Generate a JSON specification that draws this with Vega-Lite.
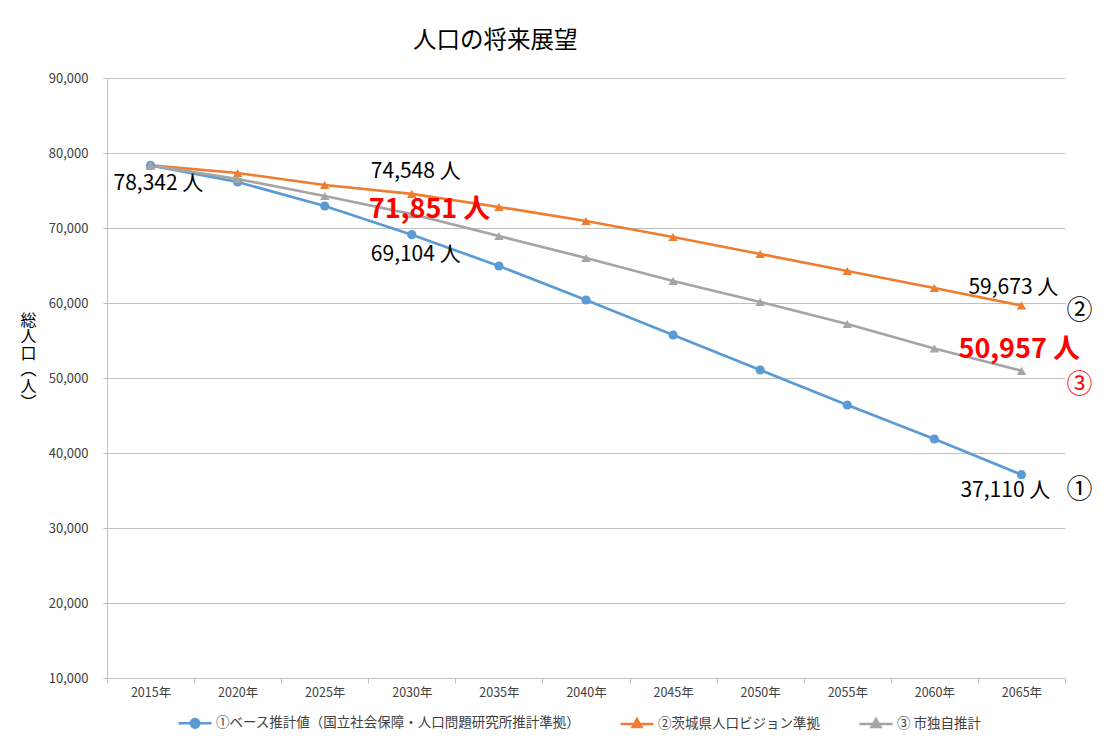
{
  "$schema": "https://vega.github.io/schema/vega-lite/v6.json",
  "width": 958,
  "height": 600,
  "autosize": {"type": "none"},
  "padding": {"left": 107, "top": 78, "right": 55, "bottom": 60},
  "background": "white",
  "config": {
    "view": {"stroke": null},
    "font": "Noto Sans CJK JP",
    "text": {"font": "Noto Sans CJK JP"}
  },
  "title": {
    "text": "人口の将来展望",
    "anchor": "start",
    "dx": 393,
    "offset": 20,
    "fontSize": 23.5,
    "fontWeight": "normal",
    "color": "#000000",
    "font": "Noto Sans CJK JP"
  },
  "datasets": {
    "pop": [
      {"year": "2015年", "series": "①ベース推計値（国立社会保障・人口問題研究所推計準拠）", "value": 78342},
      {"year": "2020年", "series": "①ベース推計値（国立社会保障・人口問題研究所推計準拠）", "value": 76133},
      {"year": "2025年", "series": "①ベース推計値（国立社会保障・人口問題研究所推計準拠）", "value": 72933},
      {"year": "2030年", "series": "①ベース推計値（国立社会保障・人口問題研究所推計準拠）", "value": 69104},
      {"year": "2035年", "series": "①ベース推計値（国立社会保障・人口問題研究所推計準拠）", "value": 64933},
      {"year": "2040年", "series": "①ベース推計値（国立社会保障・人口問題研究所推計準拠）", "value": 60400},
      {"year": "2045年", "series": "①ベース推計値（国立社会保障・人口問題研究所推計準拠）", "value": 55733},
      {"year": "2050年", "series": "①ベース推計値（国立社会保障・人口問題研究所推計準拠）", "value": 51067},
      {"year": "2055年", "series": "①ベース推計値（国立社会保障・人口問題研究所推計準拠）", "value": 46400},
      {"year": "2060年", "series": "①ベース推計値（国立社会保障・人口問題研究所推計準拠）", "value": 41867},
      {"year": "2065年", "series": "①ベース推計値（国立社会保障・人口問題研究所推計準拠）", "value": 37110},
      {"year": "2015年", "series": "②茨城県人口ビジョン準拠", "value": 78342},
      {"year": "2020年", "series": "②茨城県人口ビジョン準拠", "value": 77333},
      {"year": "2025年", "series": "②茨城県人口ビジョン準拠", "value": 75733},
      {"year": "2030年", "series": "②茨城県人口ビジョン準拠", "value": 74548},
      {"year": "2035年", "series": "②茨城県人口ビジョン準拠", "value": 72800},
      {"year": "2040年", "series": "②茨城県人口ビジョン準拠", "value": 70933},
      {"year": "2045年", "series": "②茨城県人口ビジョン準拠", "value": 68800},
      {"year": "2050年", "series": "②茨城県人口ビジョン準拠", "value": 66533},
      {"year": "2055年", "series": "②茨城県人口ビジョン準拠", "value": 64267},
      {"year": "2060年", "series": "②茨城県人口ビジョン準拠", "value": 62000},
      {"year": "2065年", "series": "②茨城県人口ビジョン準拠", "value": 59673},
      {"year": "2015年", "series": "③ 市独自推計", "value": 78342},
      {"year": "2020年", "series": "③ 市独自推計", "value": 76533},
      {"year": "2025年", "series": "③ 市独自推計", "value": 74267},
      {"year": "2030年", "series": "③ 市独自推計", "value": 71851},
      {"year": "2035年", "series": "③ 市独自推計", "value": 68933},
      {"year": "2040年", "series": "③ 市独自推計", "value": 66000},
      {"year": "2045年", "series": "③ 市独自推計", "value": 62933},
      {"year": "2050年", "series": "③ 市独自推計", "value": 60133},
      {"year": "2055年", "series": "③ 市独自推計", "value": 57200},
      {"year": "2060年", "series": "③ 市独自推計", "value": 53933},
      {"year": "2065年", "series": "③ 市独自推計", "value": 50957}
    ],
    "labels": [
      {"year": "2015年", "value": 78342, "label": "78,342 人"},
      {"year": "2030年", "value": 74548, "label": "74,548 人"},
      {"year": "2030年", "value": 71851, "label": "71,851 人"},
      {"year": "2030年", "value": 69104, "label": "69,104 人"},
      {"year": "2065年", "value": 59673, "label": "59,673 人"},
      {"year": "2065年", "value": 59673, "label": "②"},
      {"year": "2065年", "value": 50957, "label": "50,957 人"},
      {"year": "2065年", "value": 50957, "label": "③"},
      {"year": "2065年", "value": 37110, "label": "37,110 人"},
      {"year": "2065年", "value": 37110, "label": "①"}
    ]
  },
  "encoding": {
    "x": {
      "field": "year",
      "type": "ordinal",
      "title": null,
      "scale": {
        "type": "band",
        "paddingInner": 0,
        "paddingOuter": 0,
        "domain": ["2015年", "2020年", "2025年", "2030年", "2035年", "2040年", "2045年", "2050年", "2055年", "2060年", "2065年"]
      },
      "axis": {
        "tickBand": "extent",
        "grid": false,
        "domainColor": "#bfbfbf",
        "tickColor": "#bfbfbf",
        "tickSize": 5,
        "labelPadding": 3,
        "labelAngle": 0,
        "labelFontSize": 12.5,
        "labelColor": "#404040",
        "labelFont": "Noto Sans CJK JP"
      }
    },
    "y": {
      "field": "value",
      "type": "quantitative",
      "scale": {"domain": [10000, 90000], "nice": false, "zero": false},
      "axis": {
        "values": [10000, 20000, 30000, 40000, 50000, 60000, 70000, 80000, 90000],
        "format": ",d",
        "title": ["総", "人", "口", "︵", "人", "︶"],
        "titleAngle": 0,
        "titleX": -79,
        "titleY": 234,
        "titleAlign": "center",
        "titleBaseline": "top",
        "titleFontSize": 16,
        "titleLineHeight": 16.5,
        "titleFontWeight": "normal",
        "titleColor": "#000000",
        "titleFont": "Noto Sans CJK JP",
        "grid": true,
        "gridColor": "#bfbfbf",
        "domainColor": "#bfbfbf",
        "tickColor": "#bfbfbf",
        "tickSize": 4,
        "labelPadding": 15,
        "labelFontSize": 13,
        "labelColor": "#404040",
        "labelFont": "Noto Sans CJK JP"
      }
    }
  },
  "layer": [
    {
      "data": {"name": "pop"},
      "mark": {"type": "line", "strokeWidth": 2.7},
      "encoding": {
        "color": {
          "field": "series",
          "type": "nominal",
          "scale": {"range": ["#5b9bd5", "#ed7d31", "#a5a5a5"]},
          "legend": null
        }
      }
    },
    {
      "data": {"name": "pop"},
      "transform": [{"filter": "datum.series === '①ベース推計値（国立社会保障・人口問題研究所推計準拠）'"}],
      "mark": {"type": "point", "shape": "circle", "filled": true, "size": 85, "opacity": 1},
      "encoding": {
        "color": {"field": "series", "type": "nominal", "legend": null}
      }
    },
    {
      "data": {"name": "pop"},
      "transform": [{"filter": "datum.series !== '①ベース推計値（国立社会保障・人口問題研究所推計準拠）'"}],
      "mark": {"type": "point", "shape": "triangle-up", "filled": true, "size": 90, "opacity": 1},
      "encoding": {
        "color": {"field": "series", "type": "nominal", "legend": null}
      }
    },
    {
      "data": {"name": "pop"},
      "mark": {"type": "point", "opacity": 0, "strokeWidth": 2.5},
      "encoding": {
        "fill": {
          "field": "series",
          "type": "nominal",
          "title": null,
          "scale": {
            "domain": ["①ベース推計値（国立社会保障・人口問題研究所推計準拠）", "②茨城県人口ビジョン準拠", "③ 市独自推計"],
            "range": ["#5b9bd5", "#ed7d31", "#a5a5a5"]
          },
          "legend": {"orient": "none", "legendX": 70, "legendY": 627, "direction": "horizontal", "labelFontSize": 13.5, "labelColor": "#404040", "labelFont": "Noto Sans CJK JP", "symbolSize": 1089, "symbolStrokeWidth": 2.5, "labelOffset": 3, "columnPadding": 34, "padding": 0, "labelLimit": 0, "symbolOpacity": 1}
        },
        "stroke": {
          "field": "series",
          "type": "nominal",
          "title": null,
          "scale": {
            "domain": ["①ベース推計値（国立社会保障・人口問題研究所推計準拠）", "②茨城県人口ビジョン準拠", "③ 市独自推計"],
            "range": ["#5b9bd5", "#ed7d31", "#a5a5a5"]
          },
          "legend": {"orient": "none", "legendX": 70, "legendY": 627, "direction": "horizontal", "labelFontSize": 13.5, "labelColor": "#404040", "labelFont": "Noto Sans CJK JP", "symbolSize": 1089, "symbolStrokeWidth": 2.5, "labelOffset": 3, "columnPadding": 34, "padding": 0, "labelLimit": 0, "symbolOpacity": 1}
        },
        "shape": {
          "field": "series",
          "type": "nominal",
          "title": null,
          "scale": {
            "domain": ["①ベース推計値（国立社会保障・人口問題研究所推計準拠）", "②茨城県人口ビジョン準拠", "③ 市独自推計"],
            "range": [
              "M-1,0H1M-0.26,0A0.26,0.26,0,1,0,0.26,0A0.26,0.26,0,1,0,-0.26,0Z",
              "M-1,0H1M0,-0.3L0.27,0.18L-0.27,0.18Z",
              "M-1,0H1M0,-0.3L0.27,0.18L-0.27,0.18Z"
            ]
          },
          "legend": {"orient": "none", "legendX": 70, "legendY": 627, "direction": "horizontal", "labelFontSize": 13.5, "labelColor": "#404040", "labelFont": "Noto Sans CJK JP", "symbolSize": 1089, "symbolStrokeWidth": 2.5, "labelOffset": 3, "columnPadding": 34, "padding": 0, "labelLimit": 0, "symbolOpacity": 1}
        }
      }
    },
    {
      "data": {"name": "labels"},
      "transform": [{"filter": "datum.label === '78,342 人'"}],
      "mark": {"type": "text", "align": "left", "baseline": "middle", "dx": -37, "dy": 19, "fontSize": 21, "color": "#000000"},
      "encoding": {"text": {"field": "label"}}
    },
    {
      "data": {"name": "labels"},
      "transform": [{"filter": "datum.label === '74,548 人'"}],
      "mark": {"type": "text", "align": "left", "baseline": "middle", "dx": -41, "dy": -22, "fontSize": 21, "color": "#000000"},
      "encoding": {"text": {"field": "label"}}
    },
    {
      "data": {"name": "labels"},
      "transform": [{"filter": "datum.label === '71,851 人'"}],
      "mark": {"type": "text", "align": "left", "baseline": "middle", "dx": -43, "dy": -4, "fontSize": 27, "fontWeight": "bold", "color": "#ff0000"},
      "encoding": {"text": {"field": "label"}}
    },
    {
      "data": {"name": "labels"},
      "transform": [{"filter": "datum.label === '69,104 人'"}],
      "mark": {"type": "text", "align": "left", "baseline": "middle", "dx": -41, "dy": 20, "fontSize": 21, "color": "#000000"},
      "encoding": {"text": {"field": "label"}}
    },
    {
      "data": {"name": "labels"},
      "transform": [{"filter": "datum.label === '59,673 人'"}],
      "mark": {"type": "text", "align": "left", "baseline": "middle", "dx": -53, "dy": -17, "fontSize": 21, "color": "#000000"},
      "encoding": {"text": {"field": "label"}}
    },
    {
      "data": {"name": "labels"},
      "transform": [{"filter": "datum.label === '②'"}],
      "mark": {"type": "text", "align": "center", "baseline": "middle", "dx": 58, "dy": 6, "fontSize": 26, "color": "#000000"},
      "encoding": {"text": {"field": "label"}}
    },
    {
      "data": {"name": "labels"},
      "transform": [{"filter": "datum.label === '50,957 人'"}],
      "mark": {"type": "text", "align": "left", "baseline": "middle", "dx": -63, "dy": -21, "fontSize": 27, "fontWeight": "bold", "color": "#ff0000"},
      "encoding": {"text": {"field": "label"}}
    },
    {
      "data": {"name": "labels"},
      "transform": [{"filter": "datum.label === '③'"}],
      "mark": {"type": "text", "align": "center", "baseline": "middle", "dx": 58, "dy": 14, "fontSize": 26, "color": "#ff0000"},
      "encoding": {"text": {"field": "label"}}
    },
    {
      "data": {"name": "labels"},
      "transform": [{"filter": "datum.label === '37,110 人'"}],
      "mark": {"type": "text", "align": "left", "baseline": "middle", "dx": -61, "dy": 16, "fontSize": 21, "color": "#000000"},
      "encoding": {"text": {"field": "label"}}
    },
    {
      "data": {"name": "labels"},
      "transform": [{"filter": "datum.label === '①'"}],
      "mark": {"type": "text", "align": "center", "baseline": "middle", "dx": 58, "dy": 15, "fontSize": 26, "color": "#000000"},
      "encoding": {"text": {"field": "label"}}
    }
  ]
}
